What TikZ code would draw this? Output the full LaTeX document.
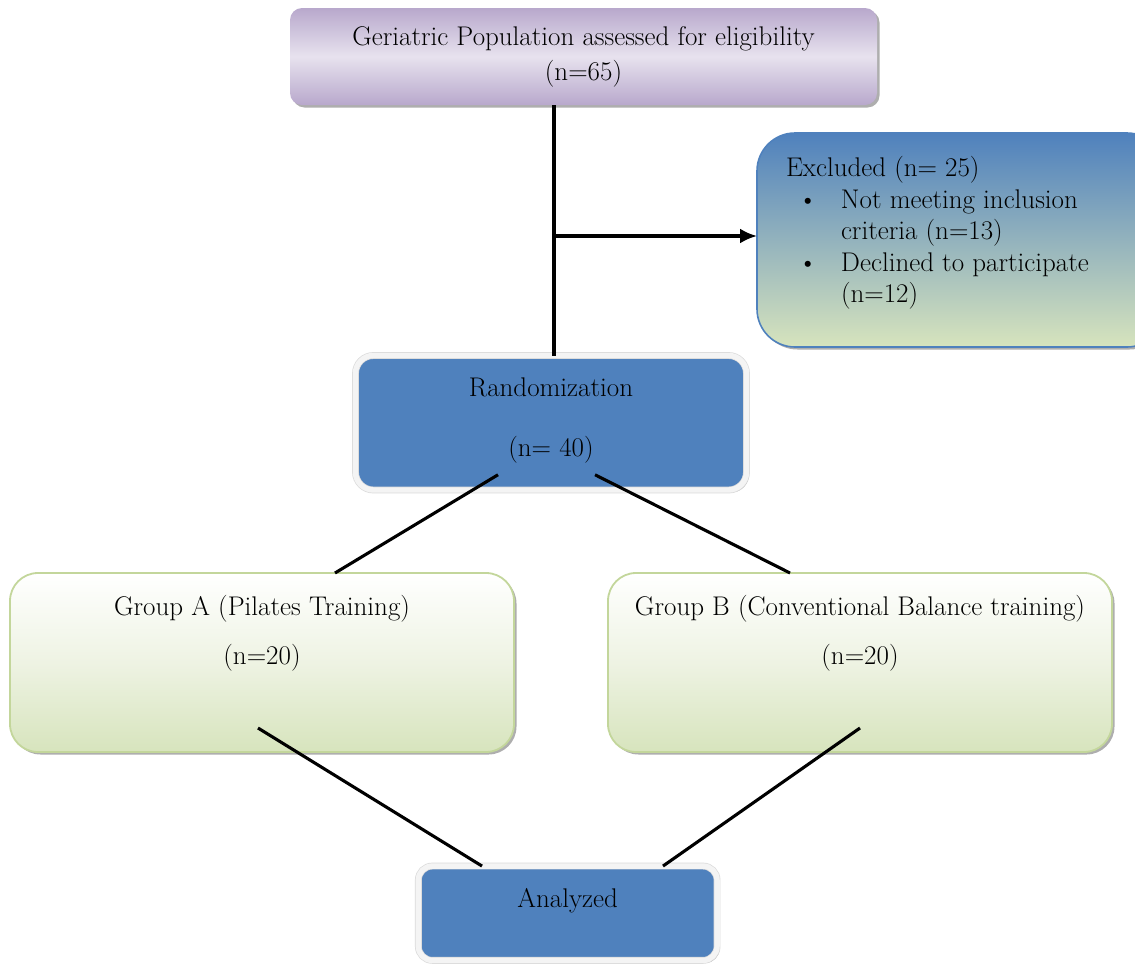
\documentclass[tikz,border=0pt]{standalone}
\usetikzlibrary{arrows.meta,shadows,calc}
\definecolor{pTop}{HTML}{B8A8CC}
\definecolor{pMid}{HTML}{E7E2EE}
\definecolor{bBlue}{HTML}{4F81BD}
\definecolor{gLight}{HTML}{D7E4BD}
\definecolor{gMid}{HTML}{EEF3E3}
\definecolor{gEdge}{HTML}{C3D69B}
\definecolor{frameEdge}{HTML}{DADADA}
\definecolor{frameFill}{HTML}{F4F4F4}
\newcommand\bxt[5]{\parbox[c][#2pt][t]{#1pt}{\centering\fontsize{27}{#4}\selectfont\vspace*{#3pt}#5\par}}
\newcommand\bxl[6]{\parbox[c][#2pt][t]{#1pt}{\raggedright\leftskip=#5pt\fontsize{27}{#4}\selectfont\vspace*{#3pt}#6\par}}
\tikzset{
  base/.style={inner sep=0pt, outer sep=0pt, text=black},
  shad/.style={drop shadow={shadow xshift=2.5pt, shadow yshift=-2.5pt, fill=black!45, opacity=0.7}},
  popbox/.style={base, shad, rounded corners=12pt, top color=pTop, bottom color=pTop, middle color=pMid},
  exclbox/.style={base, shad, rounded corners=38pt, draw=bBlue, line width=1.6pt, top color=bBlue, bottom color=gLight},
  bluebox/.style={base, shad, rounded corners=18pt, fill=bBlue, draw=frameEdge, line width=0.7pt, double=frameFill, double distance=5.4pt},
  grpbox/.style={base, shad, rounded corners=28pt, draw=gEdge, line width=1.8pt, top color=white, bottom color=gLight, middle color=gMid},
  conn/.style={line width=3.1pt, black},
}
\begin{document}
\begin{tikzpicture}[x=1pt, y=-1pt]
\useasboundingbox (0,0) rectangle (1135,967);
\node[popbox] (pop) at (583.5,56.5) {\bxt{587}{97}{18.3}{35}{Geriatric Population assessed for eligibility\\(n=65)}};
\node[exclbox] (excl) at (961,240) {\bxl{408}{214}{23.5}{31.5}{29}{Excluded (n= 25)\\
\hspace*{12pt}\makebox[43pt][l]{\textbullet}Not meeting inclusion\\
\hspace*{55pt}criteria (n=13)\\
\hspace*{12pt}\makebox[43pt][l]{\textbullet}Declined to participate\\
\hspace*{55pt}(n=12)}};
\node[bluebox] (rand) at (551,422.75) {\bxt{391}{134.5}{22.6}{60}{Randomization\\(n= 40)}};
\node[grpbox] (grpA) at (262,662.5) {\bxt{504}{179}{22.6}{49}{Group A (Pilates Training)\\(n=20)}};
\node[grpbox] (grpB) at (860,662.5) {\bxt{504}{179}{22.6}{49}{Group B (Conventional Balance training)\\(n=20)}};
\node[bluebox, rounded corners=14pt] (anal) at (567.7,913.2) {\bxt{298.7}{94.3}{22}{30}{Analyzed}};
\coordinate (j) at (554,236);
\draw[conn] (pop.south -| j) -- (rand.north -| j);
\draw[conn, -{Latex[length=17pt,width=15pt]}] (j) -- (excl.west |- j);
\draw[conn] ($(rand.center)+(-53,52)$) -- ($(grpA.north)+(73,0)$);
\draw[conn] ($(rand.center)+(44,52)$) -- ($(grpB.north)+(-70,0)$);
\draw[conn] ($(grpA.center)+(-4,65.5)$) -- ($(anal.north)+(-85.7,0)$);
\draw[conn] ($(grpB.center)+(0,65.5)$) -- ($(anal.north)+(95.3,0)$);
\end{tikzpicture}
\end{document}
